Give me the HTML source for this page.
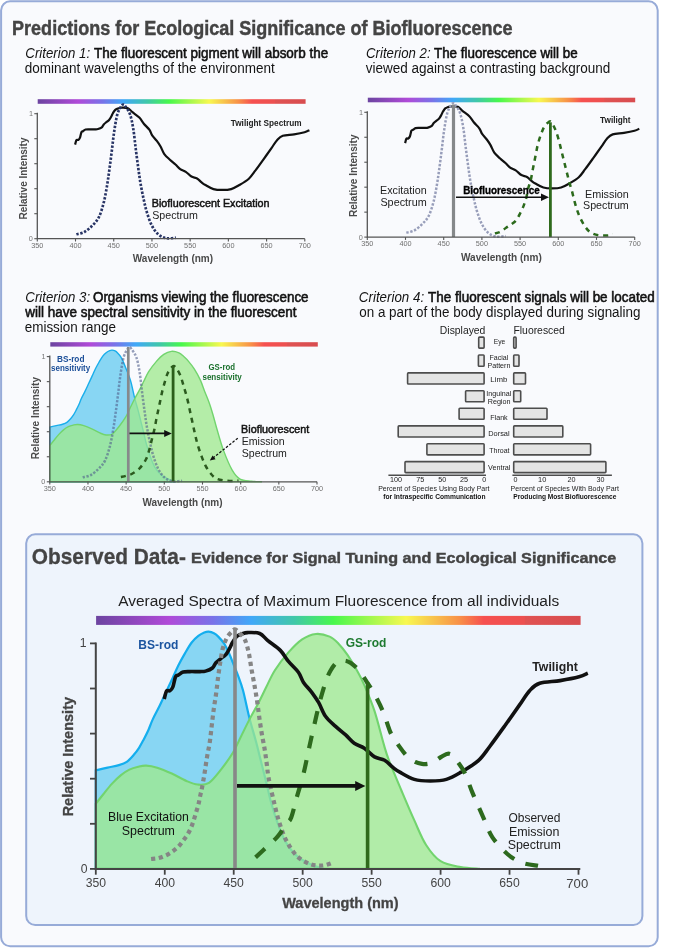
<!DOCTYPE html><html><head><meta charset="utf-8"><style>html,body{margin:0;padding:0;background:#fff;}svg{display:block;font-family:"Liberation Sans",sans-serif;will-change:transform;}</style></head><body>
<svg width="685" height="948" viewBox="0 0 685 948">
<defs><linearGradient id="spec" x1="0" x2="1" y1="0" y2="0"><stop offset="0" stop-color="#6c44a0"/><stop offset="0.15" stop-color="#b04ad8"/><stop offset="0.24" stop-color="#7a72e8"/><stop offset="0.32" stop-color="#40a8f8"/><stop offset="0.41" stop-color="#40c8a8"/><stop offset="0.49" stop-color="#48f84c"/><stop offset="0.64" stop-color="#f8f850"/><stop offset="0.75" stop-color="#f89048"/><stop offset="0.80" stop-color="#f65050"/><stop offset="0.884" stop-color="#ec5050"/><stop offset="0.886" stop-color="#e05252"/><stop offset="1" stop-color="#d84c4f"/></linearGradient><marker id="ah" viewBox="0 0 10 10" refX="9" refY="5" markerWidth="4" markerHeight="4" orient="auto" markerUnits="strokeWidth"><path d="M0,0 L10,5 L0,10 Z" fill="#111"/></marker></defs>
<rect x="0" y="0" width="685" height="948" fill="#ffffff"/>
<rect x="1.1" y="1.3" width="656.6" height="945.0" rx="9" fill="#f9fafd" stroke="#97abd8" stroke-width="2"/>
<rect x="26.2" y="534.3" width="616.2" height="390.7" rx="9" fill="#eef4fc" stroke="#97abd8" stroke-width="2"/>
<text x="12.09" y="34.60" font-size="20.30" font-weight="bold" font-style="normal" fill="#444" textLength="500.52" lengthAdjust="spacingAndGlyphs" stroke="#444" stroke-width="0.45">Predictions for Ecological Significance of Biofluorescence</text>
<text x="25.37" y="57.50" font-size="13.80" font-weight="normal" font-style="italic" fill="#141414" textLength="64.76" lengthAdjust="spacingAndGlyphs">Criterion 1:</text>
<text x="94.00" y="57.50" font-size="13.80" font-weight="normal" font-style="normal" fill="#111" textLength="234.30" lengthAdjust="spacingAndGlyphs" stroke="#111" stroke-width="0.55">The fluorescent pigment will absorb the</text>
<text x="24.73" y="72.60" font-size="13.80" font-weight="normal" font-style="normal" fill="#141414" textLength="249.97" lengthAdjust="spacingAndGlyphs">dominant wavelengths of the environment</text>
<text x="366.07" y="57.50" font-size="13.80" font-weight="normal" font-style="italic" fill="#141414" textLength="64.56" lengthAdjust="spacingAndGlyphs">Criterion 2:</text>
<text x="434.00" y="57.50" font-size="13.80" font-weight="normal" font-style="normal" fill="#111" textLength="143.60" lengthAdjust="spacingAndGlyphs" stroke="#111" stroke-width="0.55">The fluorescence will be</text>
<text x="365.75" y="72.60" font-size="13.80" font-weight="normal" font-style="normal" fill="#141414" textLength="244.62" lengthAdjust="spacingAndGlyphs">viewed against a contrasting background</text>
<text x="25.37" y="302.10" font-size="13.80" font-weight="normal" font-style="italic" fill="#141414" textLength="64.76" lengthAdjust="spacingAndGlyphs">Criterion 3:</text>
<text x="92.96" y="302.10" font-size="13.80" font-weight="normal" font-style="normal" fill="#111" textLength="215.63" lengthAdjust="spacingAndGlyphs" stroke="#111" stroke-width="0.55">Organisms viewing the fluorescence</text>
<text x="25.32" y="317.00" font-size="13.80" font-weight="normal" font-style="normal" fill="#111" textLength="271.28" lengthAdjust="spacingAndGlyphs" stroke="#111" stroke-width="0.55">will have spectral sensitivity in the fluorescent</text>
<text x="24.73" y="331.90" font-size="13.80" font-weight="normal" font-style="normal" fill="#141414" textLength="91.17" lengthAdjust="spacingAndGlyphs">emission range</text>
<text x="358.86" y="302.40" font-size="13.80" font-weight="normal" font-style="italic" fill="#141414" textLength="65.27" lengthAdjust="spacingAndGlyphs">Criterion 4:</text>
<text x="428.00" y="302.40" font-size="13.80" font-weight="normal" font-style="normal" fill="#111" textLength="226.77" lengthAdjust="spacingAndGlyphs" stroke="#111" stroke-width="0.55">The fluorescent signals will be located</text>
<text x="359.24" y="316.80" font-size="13.80" font-weight="normal" font-style="normal" fill="#141414" textLength="281.23" lengthAdjust="spacingAndGlyphs">on a part of the body displayed during signaling</text>
<text x="31.85" y="563.90" font-size="22.00" font-weight="bold" font-style="normal" fill="#444" textLength="153.99" lengthAdjust="spacingAndGlyphs" stroke="#444" stroke-width="0.3">Observed Data-</text>
<text x="190.92" y="563.40" font-size="15.00" font-weight="bold" font-style="normal" fill="#444" textLength="425.43" lengthAdjust="spacingAndGlyphs" stroke="#444" stroke-width="0.4">Evidence for Signal Tuning and Ecological Significance</text>
<text x="118.17" y="606.30" font-size="15.20" font-weight="normal" font-style="normal" fill="#222" textLength="440.99" lengthAdjust="spacingAndGlyphs">Averaged Spectra of Maximum Fluorescence from all individuals</text>
<rect x="37.7" y="99.2" width="267.9" height="4.6" fill="url(#spec)"/>
<path d="M75.13,144.57 C75.35,143.82 75.91,140.85 76.43,140.07 C76.95,139.30 77.69,140.30 78.27,139.95 C78.84,139.60 79.35,139.24 79.87,137.95 C80.39,136.66 80.88,133.32 81.40,132.20 C81.92,131.07 82.30,131.64 83.00,131.20 C83.70,130.76 84.56,129.89 85.60,129.57 C86.65,129.26 87.72,129.37 89.27,129.32 C90.83,129.28 93.47,129.37 94.93,129.32 C96.38,129.28 96.84,129.41 97.98,129.07 C99.13,128.74 100.85,128.10 101.81,127.33 C102.76,126.55 102.91,125.35 103.72,124.45 C104.52,123.55 105.73,122.68 106.62,121.95 C107.51,121.22 108.26,121.03 109.07,120.08 C109.87,119.12 110.80,117.35 111.44,116.20 C112.07,115.05 112.25,114.26 112.89,113.20 C113.52,112.14 114.38,110.62 115.26,109.83 C116.14,109.03 117.18,108.80 118.16,108.45 C119.14,108.10 119.51,107.74 121.14,107.70 C122.77,107.66 126.06,107.45 127.94,108.20 C129.83,108.95 130.56,110.64 132.45,112.20 C134.35,113.76 137.43,115.66 139.33,117.58 C141.23,119.49 142.17,121.68 143.84,123.70 C145.51,125.72 147.96,127.76 149.34,129.70 C150.73,131.64 150.92,133.45 152.17,135.32 C153.42,137.20 155.43,139.07 156.83,140.95 C158.24,142.82 159.33,144.39 160.58,146.57 C161.83,148.76 162.77,151.89 164.32,154.07 C165.88,156.26 168.04,157.97 169.90,159.70 C171.76,161.43 173.76,162.89 175.48,164.45 C177.20,166.01 178.50,167.85 180.22,169.07 C181.94,170.30 183.93,170.57 185.80,171.82 C187.67,173.07 189.58,175.47 191.46,176.57 C193.33,177.68 195.34,177.47 197.04,178.45 C198.73,179.43 200.22,181.35 201.62,182.45 C203.02,183.55 203.47,183.97 205.44,185.07 C207.42,186.18 210.67,188.26 213.47,189.07 C216.27,189.89 219.30,189.95 222.26,189.95 C225.21,189.95 228.36,189.89 231.20,189.07 C234.04,188.26 236.36,186.80 239.30,185.07 C242.24,183.35 246.19,181.10 248.85,178.70 C251.52,176.30 252.83,173.93 255.27,170.70 C257.72,167.47 260.83,163.10 263.53,159.32 C266.23,155.55 269.20,151.30 271.48,148.07 C273.76,144.85 275.32,141.99 277.21,139.95 C279.09,137.91 279.97,136.76 282.79,135.82 C285.60,134.89 290.47,134.93 294.10,134.32 C297.73,133.72 302.02,132.89 304.57,132.20 C307.12,131.51 308.58,130.53 309.39,130.20" fill="none" stroke="#111" stroke-width="2.2" stroke-linejoin="round"/>
<path d="M76.36,234.32 C77.71,233.93 81.77,233.43 84.46,231.95 C87.14,230.47 90.09,227.89 92.48,225.45 C94.88,223.01 96.97,221.07 98.82,217.32 C100.68,213.57 102.30,208.03 103.64,202.95 C104.98,197.87 105.92,192.18 106.85,186.82 C107.78,181.47 108.40,176.72 109.22,170.82 C110.03,164.93 110.93,157.91 111.74,151.45 C112.56,144.99 113.18,138.24 114.11,132.07 C115.04,125.91 116.12,118.76 117.32,114.45 C118.52,110.14 120.30,107.82 121.29,106.20 C122.29,104.57 122.62,104.70 123.28,104.70 C123.94,104.70 124.14,104.57 125.27,106.20 C126.40,107.82 128.75,110.66 130.08,114.45 C131.42,118.24 132.36,123.32 133.29,128.95 C134.22,134.57 134.85,141.78 135.66,148.20 C136.48,154.62 137.37,161.55 138.19,167.45 C139.00,173.35 139.63,178.20 140.56,183.57 C141.48,188.95 142.69,194.87 143.76,199.70 C144.83,204.53 145.64,208.28 146.97,212.57 C148.31,216.87 149.92,221.82 151.79,225.45 C153.66,229.07 155.80,232.20 158.21,234.32 C160.62,236.45 163.29,237.64 166.24,238.20 C169.18,238.76 174.26,237.78 175.86,237.70" fill="none" stroke="#283465" stroke-width="2.7" stroke-dasharray="2.4 1.6"/>
<path d="M37.30,112.70 V238.70 H304.80" fill="none" stroke="#555" stroke-width="1.3"/><line x1="34.30" y1="238.70" x2="37.30" y2="238.70" stroke="#555" stroke-width="1.1"/><line x1="34.30" y1="213.70" x2="37.30" y2="213.70" stroke="#555" stroke-width="1.1"/><line x1="34.30" y1="188.70" x2="37.30" y2="188.70" stroke="#555" stroke-width="1.1"/><line x1="34.30" y1="163.70" x2="37.30" y2="163.70" stroke="#555" stroke-width="1.1"/><line x1="34.30" y1="138.70" x2="37.30" y2="138.70" stroke="#555" stroke-width="1.1"/><line x1="34.30" y1="113.70" x2="37.30" y2="113.70" stroke="#555" stroke-width="1.1"/><line x1="37.30" y1="238.70" x2="37.30" y2="241.50" stroke="#555" stroke-width="1.1"/><text x="37.3" y="248.0" font-size="7.30" font-weight="normal" font-style="normal" fill="#707070" text-anchor="middle">350</text><line x1="75.51" y1="238.70" x2="75.51" y2="241.50" stroke="#555" stroke-width="1.1"/><text x="75.5" y="248.0" font-size="7.30" font-weight="normal" font-style="normal" fill="#707070" text-anchor="middle">400</text><line x1="113.73" y1="238.70" x2="113.73" y2="241.50" stroke="#555" stroke-width="1.1"/><text x="113.7" y="248.0" font-size="7.30" font-weight="normal" font-style="normal" fill="#707070" text-anchor="middle">450</text><line x1="151.94" y1="238.70" x2="151.94" y2="241.50" stroke="#555" stroke-width="1.1"/><text x="151.9" y="248.0" font-size="7.30" font-weight="normal" font-style="normal" fill="#707070" text-anchor="middle">500</text><line x1="190.16" y1="238.70" x2="190.16" y2="241.50" stroke="#555" stroke-width="1.1"/><text x="190.2" y="248.0" font-size="7.30" font-weight="normal" font-style="normal" fill="#707070" text-anchor="middle">550</text><line x1="228.37" y1="238.70" x2="228.37" y2="241.50" stroke="#555" stroke-width="1.1"/><text x="228.4" y="248.0" font-size="7.30" font-weight="normal" font-style="normal" fill="#707070" text-anchor="middle">600</text><line x1="266.59" y1="238.70" x2="266.59" y2="241.50" stroke="#555" stroke-width="1.1"/><text x="266.6" y="248.0" font-size="7.30" font-weight="normal" font-style="normal" fill="#707070" text-anchor="middle">650</text><line x1="304.80" y1="238.70" x2="304.80" y2="241.50" stroke="#555" stroke-width="1.1"/><text x="304.8" y="248.0" font-size="7.30" font-weight="normal" font-style="normal" fill="#707070" text-anchor="middle">700</text><text x="33.0" y="116.2" font-size="7.30" font-weight="normal" font-style="normal" fill="#777" text-anchor="end">1</text><text x="32.8" y="241.2" font-size="7.30" font-weight="normal" font-style="normal" fill="#777" text-anchor="end">0</text>
<text x="-0.67" y="0.00" font-size="11.00" font-weight="bold" font-style="normal" fill="#4a4a4a" textLength="82.02" lengthAdjust="spacingAndGlyphs" transform="translate(26.70 218.90) rotate(-90)">Relative Intensity</text>
<text x="132.79" y="262.00" font-size="10.40" font-weight="bold" font-style="normal" fill="#4a4a4a" textLength="80.31" lengthAdjust="spacingAndGlyphs">Wavelength (nm)</text>
<text x="230.81" y="125.80" font-size="8.60" font-weight="bold" font-style="normal" fill="#222" textLength="70.70" lengthAdjust="spacingAndGlyphs">Twilight Spectrum</text>
<text x="151.82" y="207.40" font-size="10.40" font-weight="normal" font-style="normal" fill="#111" textLength="117.68" lengthAdjust="spacingAndGlyphs" stroke="#111" stroke-width="0.45">Biofluorescent Excitation</text>
<text x="152.22" y="218.60" font-size="10.20" font-weight="normal" font-style="normal" fill="#222" textLength="45.69" lengthAdjust="spacingAndGlyphs">Spectrum</text>
<rect x="367.8" y="97.7" width="267.4" height="4.6" fill="url(#spec)"/>
<path d="M405.12,143.13 C405.33,142.38 405.89,139.40 406.42,138.63 C406.94,137.86 407.68,138.86 408.25,138.51 C408.82,138.15 409.33,137.80 409.85,136.51 C410.38,135.22 410.86,131.89 411.38,130.77 C411.90,129.65 412.29,130.21 412.99,129.77 C413.69,129.34 414.54,128.46 415.58,128.15 C416.63,127.84 417.70,127.94 419.25,127.90 C420.81,127.86 423.45,127.94 424.91,127.90 C426.36,127.86 426.82,127.98 427.96,127.65 C429.11,127.32 430.83,126.67 431.78,125.90 C432.74,125.13 432.89,123.93 433.69,123.03 C434.49,122.14 435.70,121.26 436.59,120.54 C437.49,119.81 438.24,119.62 439.04,118.66 C439.84,117.71 440.77,115.94 441.41,114.80 C442.04,113.65 442.22,112.86 442.86,111.80 C443.50,110.74 444.35,109.22 445.23,108.43 C446.11,107.64 447.15,107.41 448.13,107.06 C449.11,106.70 449.48,106.35 451.11,106.31 C452.74,106.27 456.03,106.06 457.91,106.81 C459.79,107.56 460.52,109.24 462.42,110.80 C464.32,112.36 467.40,114.26 469.29,116.17 C471.19,118.08 472.13,120.27 473.80,122.28 C475.47,124.30 477.91,126.34 479.30,128.27 C480.69,130.21 480.88,132.02 482.13,133.89 C483.38,135.76 485.39,137.63 486.79,139.51 C488.19,141.38 489.29,142.94 490.53,145.12 C491.78,147.31 492.72,150.43 494.28,152.61 C495.83,154.79 497.99,156.50 499.85,158.23 C501.71,159.95 503.71,161.41 505.43,162.97 C507.15,164.53 508.45,166.36 510.17,167.59 C511.89,168.81 513.87,169.08 515.75,170.33 C517.62,171.58 519.53,173.97 521.40,175.07 C523.27,176.18 525.28,175.97 526.98,176.95 C528.67,177.92 530.16,179.84 531.56,180.94 C532.96,182.04 533.41,182.46 535.38,183.56 C537.35,184.66 540.60,186.74 543.40,187.55 C546.20,188.37 549.23,188.43 552.19,188.43 C555.14,188.43 558.29,188.37 561.13,187.55 C563.97,186.74 566.28,185.29 569.23,183.56 C572.17,181.83 576.11,179.59 578.78,177.20 C581.44,174.80 582.75,172.43 585.19,169.21 C587.64,165.98 590.74,161.62 593.44,157.85 C596.14,154.09 599.11,149.84 601.39,146.62 C603.67,143.40 605.24,140.55 607.12,138.51 C609.00,136.47 609.88,135.33 612.70,134.39 C615.51,133.45 620.38,133.50 624.00,132.89 C627.63,132.29 631.92,131.46 634.47,130.77 C637.02,130.08 638.48,129.11 639.28,128.77" fill="none" stroke="#111" stroke-width="2.2" stroke-linejoin="round"/>
<path d="M406.34,232.73 C407.69,232.34 411.75,231.84 414.44,230.36 C417.13,228.88 420.07,226.30 422.46,223.87 C424.85,221.44 426.94,219.50 428.80,215.76 C430.66,212.02 432.28,206.48 433.62,201.41 C434.95,196.33 435.89,190.65 436.82,185.31 C437.75,179.96 438.38,175.22 439.19,169.33 C440.01,163.45 440.90,156.44 441.71,149.99 C442.53,143.54 443.15,136.80 444.08,130.65 C445.01,124.49 446.09,117.35 447.29,113.05 C448.49,108.74 450.27,106.43 451.26,104.81 C452.26,103.19 452.59,103.31 453.25,103.31 C453.91,103.31 454.10,103.19 455.24,104.81 C456.37,106.43 458.71,109.26 460.05,113.05 C461.39,116.83 462.33,121.91 463.26,127.53 C464.19,133.14 464.81,140.34 465.63,146.74 C466.44,153.15 467.33,160.08 468.15,165.96 C468.96,171.85 469.59,176.70 470.52,182.06 C471.45,187.43 472.66,193.34 473.73,198.16 C474.79,202.99 475.60,206.73 476.93,211.02 C478.27,215.30 479.88,220.25 481.75,223.87 C483.62,227.49 485.76,230.61 488.16,232.73 C490.57,234.85 493.25,236.04 496.19,236.60 C499.13,237.16 504.21,236.18 505.81,236.10" fill="none" stroke="#989eba" stroke-width="2.5" stroke-dasharray="2.4 1.6"/>
<path d="M494.89,233.36 C495.74,233.15 498.14,233.04 500.01,232.11 C501.88,231.17 504.30,228.99 506.12,227.74 C507.94,226.49 509.31,225.81 510.93,224.62 C512.55,223.43 514.29,222.48 515.82,220.63 C517.35,218.78 518.79,216.01 520.10,213.51 C521.41,211.02 522.66,208.27 523.69,205.65 C524.72,203.03 525.56,200.58 526.29,197.79 C527.01,195.00 527.31,191.86 528.05,188.93 C528.78,185.99 529.99,183.10 530.72,180.19 C531.45,177.28 531.83,174.37 532.40,171.46 C532.97,168.54 533.57,165.65 534.16,162.72 C534.74,159.79 535.33,156.79 535.91,153.86 C536.50,150.93 536.95,148.03 537.67,145.12 C538.40,142.21 539.25,139.32 540.27,136.39 C541.29,133.45 542.61,129.73 543.78,127.53 C544.96,125.32 546.13,124.14 547.30,123.16 C548.47,122.18 549.50,120.64 550.81,121.66 C552.12,122.68 553.86,126.26 555.17,129.27 C556.48,132.29 557.66,136.26 558.68,139.76 C559.70,143.25 560.41,146.74 561.28,150.24 C562.15,153.73 563.00,157.21 563.88,160.72 C564.76,164.24 565.66,167.79 566.55,171.33 C567.44,174.87 568.35,178.71 569.23,181.94 C570.10,185.16 570.94,187.45 571.82,190.67 C572.70,193.90 573.62,198.06 574.50,201.28 C575.38,204.51 576.08,207.11 577.09,210.02 C578.11,212.93 579.16,215.82 580.61,218.75 C582.06,221.69 584.06,225.29 585.80,227.62 C587.55,229.94 588.87,231.44 591.08,232.73 C593.28,234.02 596.11,234.92 599.02,235.35 C601.94,235.79 606.27,235.56 608.57,235.35 C610.88,235.14 612.14,234.31 612.85,234.10" fill="none" stroke="#2c6a1c" stroke-width="2.5" stroke-dasharray="5 4.8"/>
<line x1="453.5" y1="104.4" x2="453.5" y2="237.1" stroke="#85888a" stroke-width="3.2"/>
<line x1="550.4" y1="122.3" x2="550.4" y2="237.1" stroke="#2f6a1c" stroke-width="2.8"/>
<line x1="456" y1="197.2" x2="543" y2="197.2" stroke="#111" stroke-width="1.6"/>
<path d="M549,197.2 L541,193.4 L541,201 Z" fill="#111"/>
<path d="M367.30,111.30 V237.10 H634.70" fill="none" stroke="#555" stroke-width="1.3"/><line x1="364.30" y1="237.10" x2="367.30" y2="237.10" stroke="#555" stroke-width="1.1"/><line x1="364.30" y1="212.14" x2="367.30" y2="212.14" stroke="#555" stroke-width="1.1"/><line x1="364.30" y1="187.18" x2="367.30" y2="187.18" stroke="#555" stroke-width="1.1"/><line x1="364.30" y1="162.22" x2="367.30" y2="162.22" stroke="#555" stroke-width="1.1"/><line x1="364.30" y1="137.26" x2="367.30" y2="137.26" stroke="#555" stroke-width="1.1"/><line x1="364.30" y1="112.30" x2="367.30" y2="112.30" stroke="#555" stroke-width="1.1"/><line x1="367.30" y1="237.10" x2="367.30" y2="239.90" stroke="#555" stroke-width="1.1"/><text x="367.3" y="246.4" font-size="7.30" font-weight="normal" font-style="normal" fill="#707070" text-anchor="middle">350</text><line x1="405.50" y1="237.10" x2="405.50" y2="239.90" stroke="#555" stroke-width="1.1"/><text x="405.5" y="246.4" font-size="7.30" font-weight="normal" font-style="normal" fill="#707070" text-anchor="middle">400</text><line x1="443.70" y1="237.10" x2="443.70" y2="239.90" stroke="#555" stroke-width="1.1"/><text x="443.7" y="246.4" font-size="7.30" font-weight="normal" font-style="normal" fill="#707070" text-anchor="middle">450</text><line x1="481.90" y1="237.10" x2="481.90" y2="239.90" stroke="#555" stroke-width="1.1"/><text x="481.9" y="246.4" font-size="7.30" font-weight="normal" font-style="normal" fill="#707070" text-anchor="middle">500</text><line x1="520.10" y1="237.10" x2="520.10" y2="239.90" stroke="#555" stroke-width="1.1"/><text x="520.1" y="246.4" font-size="7.30" font-weight="normal" font-style="normal" fill="#707070" text-anchor="middle">550</text><line x1="558.30" y1="237.10" x2="558.30" y2="239.90" stroke="#555" stroke-width="1.1"/><text x="558.3" y="246.4" font-size="7.30" font-weight="normal" font-style="normal" fill="#707070" text-anchor="middle">600</text><line x1="596.50" y1="237.10" x2="596.50" y2="239.90" stroke="#555" stroke-width="1.1"/><text x="596.5" y="246.4" font-size="7.30" font-weight="normal" font-style="normal" fill="#707070" text-anchor="middle">650</text><line x1="634.70" y1="237.10" x2="634.70" y2="239.90" stroke="#555" stroke-width="1.1"/><text x="634.7" y="246.4" font-size="7.30" font-weight="normal" font-style="normal" fill="#707070" text-anchor="middle">700</text><text x="363.0" y="114.8" font-size="7.30" font-weight="normal" font-style="normal" fill="#777" text-anchor="end">1</text><text x="362.8" y="239.6" font-size="7.30" font-weight="normal" font-style="normal" fill="#777" text-anchor="end">0</text>
<text x="-0.67" y="0.00" font-size="11.00" font-weight="bold" font-style="normal" fill="#4a4a4a" textLength="82.53" lengthAdjust="spacingAndGlyphs" transform="translate(356.70 216.40) rotate(-90)">Relative Intensity</text>
<text x="460.99" y="260.90" font-size="10.40" font-weight="bold" font-style="normal" fill="#4a4a4a" textLength="80.81" lengthAdjust="spacingAndGlyphs">Wavelength (nm)</text>
<text x="600.11" y="122.80" font-size="8.60" font-weight="bold" font-style="normal" fill="#222" textLength="30.49" lengthAdjust="spacingAndGlyphs">Twilight</text>
<text x="463.14" y="193.90" font-size="10.60" font-weight="bold" font-style="normal" fill="#000" textLength="76.60" lengthAdjust="spacingAndGlyphs" stroke="#000" stroke-width="0.35">Biofluorescence</text>
<text x="380.02" y="194.10" font-size="10.10" font-weight="normal" font-style="normal" fill="#222" textLength="46.68" lengthAdjust="spacingAndGlyphs">Excitation</text>
<text x="380.41" y="205.60" font-size="10.10" font-weight="normal" font-style="normal" fill="#222" textLength="46.30" lengthAdjust="spacingAndGlyphs">Spectrum</text>
<text x="585.01" y="197.80" font-size="10.10" font-weight="normal" font-style="normal" fill="#222" textLength="43.79" lengthAdjust="spacingAndGlyphs">Emission</text>
<text x="583.01" y="208.90" font-size="10.10" font-weight="normal" font-style="normal" fill="#222" textLength="45.79" lengthAdjust="spacingAndGlyphs">Spectrum</text>
<rect x="50.3" y="342.2" width="267.5" height="4.4" fill="url(#spec)"/>
<path d="M49.80,427.09 C50.88,426.84 54.16,426.07 56.29,425.59 C58.41,425.11 60.78,424.75 62.55,424.21 C64.32,423.67 65.53,423.29 66.90,422.33 C68.27,421.37 69.66,419.74 70.79,418.45 C71.93,417.16 72.80,415.94 73.70,414.57 C74.59,413.19 75.29,411.81 76.14,410.19 C76.99,408.56 77.96,406.70 78.81,404.80 C79.66,402.90 80.22,401.03 81.25,398.79 C82.28,396.56 83.76,393.95 84.99,391.41 C86.23,388.86 87.44,386.15 88.66,383.52 C89.88,380.89 91.19,378.09 92.32,375.63 C93.46,373.17 94.32,371.02 95.45,368.74 C96.59,366.47 97.90,364.09 99.12,361.98 C100.34,359.88 101.56,357.69 102.78,356.10 C104.00,354.51 105.29,353.39 106.45,352.47 C107.60,351.55 108.79,350.99 109.73,350.59 C110.67,350.19 111.21,350.03 112.10,350.09 C112.99,350.15 114.16,350.49 115.07,350.97 C115.99,351.45 116.64,351.99 117.59,352.97 C118.55,353.95 119.83,355.33 120.80,356.85 C121.77,358.37 122.53,360.17 123.39,362.11 C124.26,364.05 125.12,366.34 125.99,368.49 C126.86,370.64 127.72,372.60 128.59,375.00 C129.45,377.40 130.16,379.03 131.18,382.89 C132.20,386.75 133.52,393.51 134.69,398.17 C135.86,402.82 137.15,406.83 138.21,410.81 C139.26,414.80 140.09,418.32 141.03,422.08 C141.97,425.84 142.95,429.65 143.85,433.35 C144.76,437.04 145.39,440.42 146.45,444.24 C147.51,448.06 148.80,452.46 150.19,456.26 C151.58,460.06 153.00,463.98 154.77,467.03 C156.54,470.07 158.54,472.51 160.80,474.54 C163.07,476.56 165.87,477.96 168.36,479.17 C170.85,480.38 174.53,481.36 175.77,481.80 L175.77,481.80 L49.80,481.80 Z" fill="#88d6f3" stroke="#1aaeeb" stroke-width="1.4"/>
<path d="M49.80,445.62 C50.47,444.76 52.37,442.32 53.85,440.48 C55.32,438.65 57.04,436.37 58.66,434.60 C60.27,432.83 61.93,431.16 63.54,429.84 C65.16,428.53 66.74,427.50 68.35,426.71 C69.97,425.92 71.70,425.46 73.24,425.08 C74.78,424.71 75.85,424.37 77.59,424.46 C79.33,424.54 81.33,424.85 83.70,425.59 C86.06,426.32 89.09,427.61 91.79,428.84 C94.49,430.07 97.50,431.95 99.88,432.97 C102.26,433.99 103.99,434.81 106.06,434.98 C108.14,435.14 110.12,435.43 112.32,433.97 C114.53,432.51 117.06,429.01 119.27,426.21 C121.49,423.42 123.85,420.12 125.61,417.20 C127.36,414.28 128.29,411.75 129.81,408.68 C131.32,405.62 133.05,401.96 134.69,398.79 C136.33,395.62 138.14,392.57 139.66,389.65 C141.17,386.73 142.28,384.27 143.78,381.26 C145.28,378.26 146.59,374.90 148.66,371.62 C150.74,368.35 153.70,364.49 156.22,361.61 C158.74,358.73 161.25,356.06 163.78,354.35 C166.31,352.64 168.88,351.59 171.41,351.34 C173.95,351.09 176.91,351.97 178.97,352.84 C181.03,353.72 182.15,355.14 183.78,356.60 C185.41,358.06 186.98,359.52 188.74,361.61 C190.51,363.69 192.47,366.07 194.39,369.12 C196.31,372.17 198.54,376.13 200.27,379.89 C202.00,383.64 203.24,387.69 204.78,391.66 C206.32,395.62 208.11,399.71 209.51,403.68 C210.91,407.64 211.95,411.27 213.17,415.44 C214.40,419.62 215.15,422.98 216.84,428.72 C218.53,434.45 220.80,443.03 223.33,449.87 C225.86,456.72 229.24,464.92 232.03,469.78 C234.82,474.64 236.83,477.15 240.05,479.05 C243.27,480.94 247.68,480.71 251.35,481.17 C255.01,481.63 260.25,481.70 262.03,481.80 L262.03,481.80 L49.80,481.80 Z" fill="rgb(159,233,142)" fill-opacity="0.77" stroke="#72d46e" stroke-width="1.4"/>
<path d="M82.70,477.42 C84.05,477.02 88.11,476.52 90.80,475.04 C93.48,473.56 96.42,470.97 98.81,468.53 C101.20,466.09 103.29,464.15 105.15,460.39 C107.01,456.63 108.62,451.08 109.96,445.99 C111.29,440.90 112.24,435.20 113.16,429.84 C114.09,424.48 114.72,419.72 115.53,413.82 C116.35,407.91 117.24,400.88 118.05,394.41 C118.86,387.94 119.49,381.18 120.42,375.00 C121.35,368.83 122.43,361.67 123.62,357.35 C124.82,353.03 126.60,350.72 127.59,349.09 C128.59,347.46 128.92,347.59 129.58,347.59 C130.24,347.59 130.43,347.46 131.56,349.09 C132.70,350.72 135.04,353.55 136.37,357.35 C137.71,361.15 138.65,366.24 139.58,371.87 C140.51,377.51 141.13,384.73 141.95,391.16 C142.76,397.58 143.65,404.53 144.47,410.44 C145.28,416.34 145.90,421.20 146.83,426.59 C147.76,431.97 148.97,437.90 150.04,442.74 C151.11,447.58 151.91,451.33 153.24,455.63 C154.58,459.93 156.18,464.90 158.05,468.53 C159.92,472.16 162.06,475.29 164.47,477.42 C166.87,479.55 169.54,480.74 172.48,481.30 C175.42,481.86 180.50,480.88 182.10,480.80" fill="none" stroke="#505f8c" stroke-opacity="0.6" stroke-width="2.5" stroke-dasharray="2.3 1.55"/>
<path d="M120.88,477.04 C121.75,476.83 124.27,476.33 126.14,475.79 C128.01,475.25 129.78,475.12 132.10,473.79 C134.41,472.45 137.72,470.20 140.04,467.78 C142.35,465.36 144.45,462.25 145.99,459.26 C147.53,456.28 148.30,453.19 149.27,449.87 C150.25,446.56 150.99,442.88 151.87,439.36 C152.75,435.83 153.77,432.24 154.54,428.72 C155.32,425.19 155.87,421.50 156.53,418.20 C157.19,414.90 157.85,412.02 158.51,408.93 C159.17,405.85 159.84,402.76 160.50,399.67 C161.16,396.58 161.72,393.49 162.48,390.40 C163.25,387.32 164.21,384.00 165.08,381.14 C165.94,378.28 166.58,375.55 167.67,373.25 C168.77,370.96 170.61,368.58 171.64,367.37 C172.67,366.16 173.03,365.78 173.86,365.99 C174.68,366.20 175.50,366.97 176.61,368.62 C177.71,370.27 179.30,372.90 180.50,375.88 C181.70,378.86 182.67,382.79 183.78,386.52 C184.89,390.26 186.14,394.33 187.14,398.29 C188.15,402.26 188.93,406.33 189.81,410.31 C190.69,414.30 191.54,418.24 192.41,422.20 C193.27,426.17 194.13,430.34 195.00,434.10 C195.88,437.85 196.57,441.01 197.68,444.74 C198.78,448.48 200.32,452.98 201.65,456.51 C202.97,460.04 204.08,463.02 205.62,465.90 C207.16,468.78 209.13,471.70 210.88,473.79 C212.64,475.87 213.96,477.31 216.15,478.42 C218.34,479.53 221.15,479.98 224.01,480.42 C226.88,480.86 230.91,481.03 233.33,481.05 C235.75,481.07 237.65,480.63 238.52,480.55" fill="none" stroke="#2b5a1e" stroke-width="2.5" stroke-dasharray="5 4.8"/>
<line x1="128.3" y1="347" x2="128.3" y2="481.8" stroke="#87898b" stroke-width="2.7"/>
<line x1="173.1" y1="365.9" x2="173.1" y2="481.8" stroke="#2b5e1a" stroke-width="2.8"/>
<line x1="129.5" y1="433.4" x2="165" y2="433.4" stroke="#111" stroke-width="1.7"/>
<path d="M171.8,433.4 L164.2,429.9 L164.2,436.9 Z" fill="#111"/>
<path d="M49.80,355.60 V481.80 H317.00" fill="none" stroke="#555" stroke-width="1.3"/><line x1="46.80" y1="481.80" x2="49.80" y2="481.80" stroke="#555" stroke-width="1.1"/><line x1="46.80" y1="456.76" x2="49.80" y2="456.76" stroke="#555" stroke-width="1.1"/><line x1="46.80" y1="431.72" x2="49.80" y2="431.72" stroke="#555" stroke-width="1.1"/><line x1="46.80" y1="406.68" x2="49.80" y2="406.68" stroke="#555" stroke-width="1.1"/><line x1="46.80" y1="381.64" x2="49.80" y2="381.64" stroke="#555" stroke-width="1.1"/><line x1="46.80" y1="356.60" x2="49.80" y2="356.60" stroke="#555" stroke-width="1.1"/><line x1="49.80" y1="481.80" x2="49.80" y2="484.60" stroke="#555" stroke-width="1.1"/><text x="49.8" y="491.1" font-size="7.30" font-weight="normal" font-style="normal" fill="#707070" text-anchor="middle">350</text><line x1="87.97" y1="481.80" x2="87.97" y2="484.60" stroke="#555" stroke-width="1.1"/><text x="88.0" y="491.1" font-size="7.30" font-weight="normal" font-style="normal" fill="#707070" text-anchor="middle">400</text><line x1="126.14" y1="481.80" x2="126.14" y2="484.60" stroke="#555" stroke-width="1.1"/><text x="126.1" y="491.1" font-size="7.30" font-weight="normal" font-style="normal" fill="#707070" text-anchor="middle">450</text><line x1="164.31" y1="481.80" x2="164.31" y2="484.60" stroke="#555" stroke-width="1.1"/><text x="164.3" y="491.1" font-size="7.30" font-weight="normal" font-style="normal" fill="#707070" text-anchor="middle">500</text><line x1="202.49" y1="481.80" x2="202.49" y2="484.60" stroke="#555" stroke-width="1.1"/><text x="202.5" y="491.1" font-size="7.30" font-weight="normal" font-style="normal" fill="#707070" text-anchor="middle">550</text><line x1="240.66" y1="481.80" x2="240.66" y2="484.60" stroke="#555" stroke-width="1.1"/><text x="240.7" y="491.1" font-size="7.30" font-weight="normal" font-style="normal" fill="#707070" text-anchor="middle">600</text><line x1="278.83" y1="481.80" x2="278.83" y2="484.60" stroke="#555" stroke-width="1.1"/><text x="278.8" y="491.1" font-size="7.30" font-weight="normal" font-style="normal" fill="#707070" text-anchor="middle">650</text><line x1="317.00" y1="481.80" x2="317.00" y2="484.60" stroke="#555" stroke-width="1.1"/><text x="317.0" y="491.1" font-size="7.30" font-weight="normal" font-style="normal" fill="#707070" text-anchor="middle">700</text><text x="45.5" y="359.1" font-size="7.30" font-weight="normal" font-style="normal" fill="#777" text-anchor="end">1</text><text x="45.3" y="484.3" font-size="7.30" font-weight="normal" font-style="normal" fill="#777" text-anchor="end">0</text>
<text x="-0.67" y="0.00" font-size="11.00" font-weight="bold" font-style="normal" fill="#4a4a4a" textLength="82.12" lengthAdjust="spacingAndGlyphs" transform="translate(39.40 458.50) rotate(-90)">Relative Intensity</text>
<text x="142.39" y="505.80" font-size="10.40" font-weight="bold" font-style="normal" fill="#4a4a4a" textLength="80.21" lengthAdjust="spacingAndGlyphs">Wavelength (nm)</text>
<text x="56.95" y="361.70" font-size="9.00" font-weight="bold" font-style="normal" fill="#1a4e98" textLength="27.50" lengthAdjust="spacingAndGlyphs">BS-rod</text>
<text x="51.02" y="370.80" font-size="9.00" font-weight="bold" font-style="normal" fill="#1a4e98" textLength="39.23" lengthAdjust="spacingAndGlyphs">sensitivity</text>
<text x="208.48" y="370.20" font-size="9.00" font-weight="bold" font-style="normal" fill="#1a702c" textLength="26.54" lengthAdjust="spacingAndGlyphs">GS-rod</text>
<text x="202.42" y="379.70" font-size="9.00" font-weight="bold" font-style="normal" fill="#1a702c" textLength="39.43" lengthAdjust="spacingAndGlyphs">sensitivity</text>
<text x="241.12" y="433.40" font-size="10.20" font-weight="normal" font-style="normal" fill="#111" textLength="68.16" lengthAdjust="spacingAndGlyphs" stroke="#111" stroke-width="0.45">Biofluorescent</text>
<text x="241.73" y="445.10" font-size="10.20" font-weight="normal" font-style="normal" fill="#222" textLength="42.96" lengthAdjust="spacingAndGlyphs">Emission</text>
<text x="241.72" y="456.80" font-size="10.20" font-weight="normal" font-style="normal" fill="#222" textLength="45.18" lengthAdjust="spacingAndGlyphs">Spectrum</text>
<line x1="237.8" y1="438.2" x2="212.6" y2="458.3" stroke="#111" stroke-width="1.2" stroke-dasharray="2.6 1.6"/>
<path d="M209.8,460.6 L212.6,455.4 L215.6,459.2 Z" fill="#111"/>
<rect x="478.70" y="337.10" width="5.40" height="11.00" rx="0.8" fill="#e4e4e4" stroke="#4d4d4d" stroke-width="1.6"/>
<rect x="513.70" y="337.10" width="2.40" height="11.00" rx="0.8" fill="#e4e4e4" stroke="#4d4d4d" stroke-width="1.6"/>
<text x="493.76" y="343.90" font-size="6.80" font-weight="normal" font-style="normal" fill="#222" textLength="11.44" lengthAdjust="spacingAndGlyphs">Eye</text>
<rect x="478.40" y="355.00" width="5.70" height="11.20" rx="0.8" fill="#e4e4e4" stroke="#4d4d4d" stroke-width="1.6"/>
<rect x="513.70" y="355.00" width="5.30" height="11.20" rx="0.8" fill="#e4e4e4" stroke="#4d4d4d" stroke-width="1.6"/>
<text x="489.42" y="359.90" font-size="6.80" font-weight="normal" font-style="normal" fill="#222" textLength="18.85" lengthAdjust="spacingAndGlyphs">Facial</text>
<text x="487.41" y="367.90" font-size="6.80" font-weight="normal" font-style="normal" fill="#222" textLength="23.05" lengthAdjust="spacingAndGlyphs">Pattern</text>
<rect x="407.60" y="372.90" width="76.50" height="11.10" rx="0.8" fill="#e4e4e4" stroke="#4d4d4d" stroke-width="1.6"/>
<rect x="513.70" y="372.90" width="11.80" height="11.10" rx="0.8" fill="#e4e4e4" stroke="#4d4d4d" stroke-width="1.6"/>
<text x="490.36" y="381.80" font-size="6.80" font-weight="normal" font-style="normal" fill="#222" textLength="16.97" lengthAdjust="spacingAndGlyphs">Limb</text>
<rect x="465.60" y="390.70" width="18.50" height="11.00" rx="0.8" fill="#e4e4e4" stroke="#4d4d4d" stroke-width="1.6"/>
<rect x="513.70" y="390.70" width="7.00" height="11.00" rx="0.8" fill="#e4e4e4" stroke="#4d4d4d" stroke-width="1.6"/>
<text x="486.24" y="395.80" font-size="6.80" font-weight="normal" font-style="normal" fill="#222" textLength="25.04" lengthAdjust="spacingAndGlyphs">Inguinal</text>
<text x="487.71" y="403.80" font-size="6.80" font-weight="normal" font-style="normal" fill="#222" textLength="22.76" lengthAdjust="spacingAndGlyphs">Region</text>
<rect x="459.10" y="408.20" width="25.00" height="11.00" rx="0.8" fill="#e4e4e4" stroke="#4d4d4d" stroke-width="1.6"/>
<rect x="513.70" y="408.20" width="33.30" height="11.00" rx="0.8" fill="#e4e4e4" stroke="#4d4d4d" stroke-width="1.6"/>
<text x="490.21" y="420.10" font-size="6.80" font-weight="normal" font-style="normal" fill="#222" textLength="17.48" lengthAdjust="spacingAndGlyphs">Flank</text>
<rect x="398.20" y="425.90" width="85.90" height="11.10" rx="0.8" fill="#e4e4e4" stroke="#4d4d4d" stroke-width="1.6"/>
<rect x="513.70" y="425.90" width="49.10" height="11.10" rx="0.8" fill="#e4e4e4" stroke="#4d4d4d" stroke-width="1.6"/>
<text x="488.30" y="436.10" font-size="6.80" font-weight="normal" font-style="normal" fill="#222" textLength="21.30" lengthAdjust="spacingAndGlyphs">Dorsal</text>
<rect x="426.90" y="443.80" width="57.20" height="11.10" rx="0.8" fill="#e4e4e4" stroke="#4d4d4d" stroke-width="1.6"/>
<rect x="513.70" y="443.80" width="76.90" height="11.10" rx="0.8" fill="#e4e4e4" stroke="#4d4d4d" stroke-width="1.6"/>
<text x="489.34" y="452.60" font-size="6.80" font-weight="normal" font-style="normal" fill="#222" textLength="20.21" lengthAdjust="spacingAndGlyphs">Throat</text>
<rect x="405.00" y="461.60" width="79.10" height="11.00" rx="0.8" fill="#e4e4e4" stroke="#4d4d4d" stroke-width="1.6"/>
<rect x="513.70" y="461.60" width="92.20" height="11.00" rx="0.8" fill="#e4e4e4" stroke="#4d4d4d" stroke-width="1.6"/>
<text x="487.97" y="470.00" font-size="6.80" font-weight="normal" font-style="normal" fill="#222" textLength="22.51" lengthAdjust="spacingAndGlyphs">Ventral</text>
<text x="439.85" y="333.90" font-size="10.40" font-weight="normal" font-style="normal" fill="#222" textLength="45.52" lengthAdjust="spacingAndGlyphs">Displayed</text>
<text x="513.45" y="333.90" font-size="10.40" font-weight="normal" font-style="normal" fill="#222" textLength="51.42" lengthAdjust="spacingAndGlyphs">Fluoresced</text>
<line x1="388.4" y1="475.2" x2="486" y2="475.2" stroke="#4d4d4d" stroke-width="1.4"/>
<line x1="512.4" y1="475.2" x2="611.9" y2="475.2" stroke="#4d4d4d" stroke-width="1.4"/>
<text x="390.05" y="481.90" font-size="6.60" font-weight="normal" font-style="normal" fill="#222" textLength="12.03" lengthAdjust="spacingAndGlyphs">100</text>
<text x="416.23" y="481.90" font-size="6.60" font-weight="normal" font-style="normal" fill="#222" textLength="8.08" lengthAdjust="spacingAndGlyphs">75</text>
<text x="438.21" y="481.90" font-size="6.60" font-weight="normal" font-style="normal" fill="#222" textLength="7.97" lengthAdjust="spacingAndGlyphs">50</text>
<text x="460.04" y="481.90" font-size="6.60" font-weight="normal" font-style="normal" fill="#222" textLength="8.07" lengthAdjust="spacingAndGlyphs">25</text>
<text x="482.22" y="481.90" font-size="6.60" font-weight="normal" font-style="normal" fill="#222" textLength="3.96" lengthAdjust="spacingAndGlyphs">0</text>
<text x="513.52" y="481.90" font-size="6.60" font-weight="normal" font-style="normal" fill="#222" textLength="3.96" lengthAdjust="spacingAndGlyphs">0</text>
<text x="538.03" y="481.90" font-size="6.60" font-weight="normal" font-style="normal" fill="#222" textLength="8.26" lengthAdjust="spacingAndGlyphs">10</text>
<text x="567.54" y="481.90" font-size="6.60" font-weight="normal" font-style="normal" fill="#222" textLength="8.05" lengthAdjust="spacingAndGlyphs">20</text>
<text x="596.53" y="481.90" font-size="6.60" font-weight="normal" font-style="normal" fill="#222" textLength="7.95" lengthAdjust="spacingAndGlyphs">30</text>
<text x="378.13" y="491.00" font-size="7.00" font-weight="normal" font-style="normal" fill="#222" textLength="111.43" lengthAdjust="spacingAndGlyphs">Percent of Species Using Body Part</text>
<text x="383.29" y="498.90" font-size="7.00" font-weight="bold" font-style="normal" fill="#111" textLength="102.23" lengthAdjust="spacingAndGlyphs">for Intraspecific Communication</text>
<text x="510.52" y="491.00" font-size="7.00" font-weight="normal" font-style="normal" fill="#222" textLength="108.43" lengthAdjust="spacingAndGlyphs">Percent of Species With Body Part</text>
<text x="513.36" y="498.90" font-size="7.00" font-weight="bold" font-style="normal" fill="#111" textLength="103.07" lengthAdjust="spacingAndGlyphs">Producing Most Biofluorescence</text>
<rect x="96.1" y="615.9" width="484.5" height="9.0" fill="url(#spec)"/>
<path d="M95.80,770.36 C97.76,769.91 103.70,768.51 107.55,767.65 C111.39,766.79 115.68,766.15 118.88,765.17 C122.08,764.19 124.27,763.52 126.76,761.79 C129.24,760.06 131.76,757.13 133.81,754.80 C135.85,752.47 137.44,750.29 139.06,747.81 C140.67,745.33 141.94,742.85 143.48,739.91 C145.02,736.98 146.77,733.64 148.32,730.22 C149.86,726.80 150.87,723.41 152.74,719.39 C154.60,715.37 157.28,710.67 159.51,706.09 C161.74,701.50 163.93,696.62 166.14,691.88 C168.35,687.15 170.73,682.11 172.78,677.68 C174.83,673.24 176.39,669.37 178.44,665.27 C180.49,661.18 182.87,656.89 185.08,653.10 C187.29,649.30 189.50,645.35 191.71,642.50 C193.92,639.64 196.25,637.61 198.34,635.96 C200.44,634.30 202.58,633.29 204.29,632.58 C205.99,631.86 206.96,631.56 208.57,631.67 C210.18,631.79 212.30,632.39 213.96,633.25 C215.62,634.12 216.79,635.09 218.52,636.86 C220.25,638.63 222.58,641.11 224.33,643.85 C226.08,646.59 227.46,649.83 229.02,653.32 C230.59,656.82 232.16,660.95 233.72,664.82 C235.29,668.69 236.86,672.23 238.42,676.55 C239.99,680.87 241.28,683.80 243.12,690.75 C244.96,697.71 247.36,709.88 249.48,718.27 C251.60,726.65 253.92,733.86 255.84,741.04 C257.75,748.22 259.24,754.57 260.95,761.34 C262.65,768.10 264.43,774.98 266.06,781.63 C267.70,788.28 268.85,794.37 270.76,801.25 C272.67,808.13 275.02,816.06 277.53,822.90 C280.04,829.74 282.62,836.80 285.82,842.29 C289.03,847.78 292.64,852.18 296.74,855.82 C300.84,859.47 305.91,861.98 310.42,864.16 C314.94,866.34 321.60,868.11 323.83,868.90 L323.83,868.90 L95.80,868.90 Z" fill="#88d6f3" stroke="#14aeee" stroke-width="2.2"/>
<path d="M95.80,803.73 C97.02,802.19 100.45,797.79 103.12,794.49 C105.80,791.18 108.91,787.08 111.83,783.89 C114.76,780.69 117.75,777.69 120.68,775.32 C123.60,772.95 126.46,771.11 129.38,769.68 C132.31,768.25 135.44,767.42 138.23,766.75 C141.01,766.07 142.95,765.47 146.10,765.62 C149.26,765.77 152.88,766.34 157.16,767.65 C161.44,768.97 166.93,771.30 171.81,773.51 C176.69,775.73 182.15,779.11 186.46,780.95 C190.77,782.80 193.90,784.26 197.65,784.56 C201.41,784.86 205.00,785.39 208.99,782.76 C212.97,780.13 217.55,773.81 221.56,768.78 C225.57,763.74 229.85,757.80 233.03,752.54 C236.21,747.28 237.89,742.73 240.63,737.21 C243.37,731.68 246.51,725.11 249.48,719.39 C252.45,713.68 255.72,708.19 258.46,702.93 C261.20,697.67 263.21,693.24 265.92,687.82 C268.64,682.41 271.01,676.36 274.77,670.46 C278.52,664.56 283.89,657.61 288.45,652.42 C293.01,647.23 297.55,642.42 302.13,639.34 C306.72,636.26 311.37,634.38 315.95,633.93 C320.54,633.48 325.90,635.06 329.63,636.63 C333.37,638.21 335.39,640.39 338.34,643.40 C341.29,646.41 344.12,649.98 347.32,654.67 C350.53,659.37 354.72,666.51 357.55,671.59 C360.38,676.66 361.49,678.54 364.32,685.12 C367.16,691.69 371.28,701.09 374.55,711.05 C377.82,721.01 381.53,736.61 383.95,744.88 C386.37,753.14 386.18,753.14 389.06,760.66 C391.94,768.18 397.01,780.02 401.22,789.98 C405.44,799.93 410.20,811.25 414.35,820.42 C418.50,829.59 421.72,838.19 426.10,845.00 C430.47,851.80 434.85,857.55 440.61,861.23 C446.37,864.92 454.08,865.82 460.65,867.10 C467.21,868.37 476.77,868.60 480.00,868.90 L480.00,868.90 L95.80,868.90 Z" fill="rgb(159,233,142)" fill-opacity="0.77" stroke="#72d46e" stroke-width="2.1"/>
<path d="M164.21,699.10 C164.60,697.75 165.61,692.37 166.56,690.98 C167.50,689.59 168.84,691.39 169.88,690.75 C170.91,690.12 171.83,689.48 172.78,687.15 C173.72,684.82 174.60,678.80 175.54,676.77 C176.49,674.74 177.18,675.76 178.44,674.97 C179.71,674.18 181.25,672.60 183.14,672.04 C185.03,671.47 186.97,671.66 189.78,671.59 C192.59,671.51 197.38,671.66 200.00,671.59 C202.63,671.51 203.46,671.74 205.53,671.14 C207.60,670.54 210.71,669.37 212.44,667.98 C214.17,666.59 214.44,664.41 215.90,662.79 C217.35,661.18 219.54,659.60 221.15,658.28 C222.76,656.97 224.12,656.63 225.57,654.90 C227.02,653.17 228.70,649.98 229.85,647.91 C231.01,645.84 231.33,644.41 232.48,642.50 C233.63,640.58 235.17,637.84 236.76,636.41 C238.35,634.98 240.24,634.57 242.02,633.93 C243.79,633.29 244.46,632.65 247.41,632.58 C250.35,632.50 256.30,632.12 259.71,633.48 C263.11,634.83 264.43,637.88 267.86,640.69 C271.29,643.51 276.87,646.93 280.30,650.39 C283.73,653.85 285.43,657.79 288.45,661.44 C291.47,665.09 295.89,668.77 298.40,672.26 C300.91,675.76 301.26,679.03 303.51,682.41 C305.77,685.79 309.41,689.18 311.94,692.56 C314.48,695.94 316.46,698.76 318.72,702.71 C320.97,706.65 322.68,712.29 325.49,716.24 C328.30,720.18 332.21,723.26 335.58,726.38 C338.94,729.50 342.56,732.13 345.67,734.95 C348.78,737.77 351.12,741.08 354.23,743.30 C357.34,745.51 360.94,746.00 364.32,748.26 C367.71,750.51 371.16,754.83 374.55,756.83 C377.94,758.82 381.57,758.44 384.64,760.21 C387.70,761.98 390.40,765.43 392.93,767.42 C395.46,769.42 396.27,770.17 399.84,772.16 C403.41,774.15 409.28,777.91 414.35,779.38 C419.42,780.84 424.90,780.95 430.24,780.95 C435.59,780.95 441.28,780.84 446.41,779.38 C451.55,777.91 455.74,775.28 461.06,772.16 C466.38,769.04 473.52,764.98 478.34,760.66 C483.15,756.34 485.52,752.05 489.95,746.23 C494.37,740.40 499.99,732.51 504.87,725.71 C509.76,718.90 515.12,711.24 519.24,705.41 C523.37,699.59 526.20,694.44 529.61,690.75 C533.02,687.07 534.61,685.00 539.70,683.31 C544.79,681.62 553.59,681.70 560.15,680.61 C566.72,679.52 574.48,678.01 579.09,676.77 C583.69,675.53 586.34,673.77 587.79,673.17" fill="none" stroke="#111" stroke-width="3.6" stroke-linejoin="round"/>
<path d="M151.08,858.98 C152.21,858.87 155.46,858.87 157.85,858.30 C160.25,857.74 163.08,856.69 165.45,855.60 C167.83,854.51 169.97,853.23 172.09,851.76 C174.21,850.30 176.30,848.68 178.17,846.80 C180.03,844.92 181.67,842.63 183.28,840.49 C184.89,838.34 186.48,836.24 187.84,833.95 C189.20,831.65 190.40,829.21 191.43,826.73 C192.47,824.25 193.21,821.70 194.06,819.06 C194.91,816.43 195.79,813.50 196.55,810.95 C197.31,808.39 198.02,806.21 198.62,803.73 C199.22,801.25 199.59,798.66 200.14,796.06 C200.69,793.47 201.20,791.97 201.94,788.17 C202.67,784.38 203.73,778.36 204.56,773.29 C205.39,768.21 206.04,762.95 206.91,757.73 C207.79,752.50 209.01,747.32 209.81,741.94 C210.62,736.57 211.10,730.86 211.75,725.48 C212.39,720.11 212.97,714.92 213.68,709.70 C214.40,704.47 215.32,699.36 216.03,694.14 C216.75,688.91 217.28,683.58 217.97,678.35 C218.66,673.13 219.35,667.87 220.18,662.79 C221.01,657.72 221.77,652.16 222.94,647.91 C224.12,643.66 225.64,640.09 227.23,637.31 C228.82,634.53 231.21,632.54 232.48,631.22 C233.75,629.91 234.00,629.46 234.83,629.42 C235.66,629.38 235.82,629.34 237.45,631.00 C239.09,632.65 242.75,635.66 244.64,639.34 C246.53,643.02 247.64,648.06 248.79,653.10 C249.94,658.13 250.61,664.22 251.55,669.56 C252.50,674.89 253.53,679.89 254.45,685.12 C255.37,690.34 256.27,695.53 257.08,700.90 C257.89,706.28 258.51,711.91 259.29,717.36 C260.07,722.81 260.88,728.26 261.78,733.60 C262.68,738.94 263.87,744.50 264.68,749.38 C265.49,754.27 265.97,758.22 266.62,762.91 C267.26,767.61 267.47,771.67 268.55,777.57 C269.63,783.47 271.43,791.22 273.11,798.32 C274.79,805.42 276.52,813.31 278.64,820.19 C280.76,827.07 282.81,833.65 285.82,839.58 C288.84,845.52 292.64,851.72 296.74,855.82 C300.84,859.92 306.09,862.55 310.42,864.16 C314.75,865.78 319.09,865.74 322.72,865.52 C326.36,865.29 330.67,863.26 332.26,862.81" fill="none" stroke="#858585" stroke-width="4.2" stroke-dasharray="4.2 3.6"/>
<path d="M255.56,857.40 C257.13,855.93 261.29,852.06 264.96,848.61 C268.62,845.15 273.94,840.79 277.53,836.65 C281.13,832.52 284.24,826.99 286.52,823.80 C288.80,820.61 289.51,821.88 291.21,817.49 C292.92,813.09 294.69,804.71 296.74,797.42 C298.79,790.13 301.53,781.63 303.51,773.74 C305.50,765.85 306.95,757.69 308.63,750.06 C310.31,742.43 311.78,735.86 313.60,727.96 C315.42,720.07 317.56,710.30 319.55,702.71 C321.53,695.11 323.67,687.75 325.49,682.41 C327.31,677.07 328.51,674.07 330.46,670.69 C332.42,667.30 334.96,663.81 337.24,662.12 C339.52,660.43 341.89,660.39 344.15,660.54 C346.40,660.69 348.25,661.33 350.78,663.02 C353.31,664.71 356.81,667.75 359.35,670.69 C361.88,673.62 363.45,676.66 365.98,680.61 C368.51,684.55 371.74,689.25 374.55,694.36 C377.36,699.47 380.26,705.11 382.84,711.28 C385.42,717.44 388.35,727.21 390.03,731.35 C391.71,735.48 391.29,733.45 392.93,736.08 C394.57,738.71 397.40,743.67 399.84,747.13 C402.28,750.59 405.05,754.38 407.58,756.83 C410.11,759.27 412.65,760.62 415.04,761.79 C417.44,762.95 419.79,763.48 421.95,763.82 C424.12,764.16 425.96,764.19 428.03,763.82 C430.11,763.44 432.18,762.73 434.39,761.56 C436.60,760.40 438.95,758.14 441.30,756.83 C443.65,755.51 446.34,753.56 448.49,753.67 C450.63,753.78 451.53,754.46 454.15,757.50 C456.78,760.55 461.18,766.03 464.24,771.93 C467.30,777.84 469.22,785.01 472.53,792.91 C475.85,800.80 480.83,811.89 484.14,819.29 C487.46,826.69 488.52,831.50 492.43,837.33 C496.35,843.16 502.66,850.00 507.64,854.24 C512.61,858.49 517.22,860.89 522.29,862.81 C527.35,864.73 535.41,865.25 538.04,865.74" fill="none" stroke="#2d6a1e" stroke-width="4.2" pathLength="1000" stroke-dasharray="23.8 22.7"/>
<line x1="235.0" y1="628.5" x2="235.0" y2="869" stroke="#888" stroke-width="3.6"/>
<line x1="367.6" y1="682.6" x2="367.6" y2="869" stroke="#2f6a1c" stroke-width="3.6"/>
<line x1="237" y1="785.9" x2="356" y2="785.9" stroke="#111" stroke-width="3.6"/>
<path d="M365.4,785.9 L355.2,781.0 L355.2,790.9 Z" fill="#111"/>
<path d="M95.80,642.50 V869.10 H580.30" fill="none" stroke="#444" stroke-width="2.0"/>
<line x1="90" y1="868.90" x2="95.8" y2="868.90" stroke="#444" stroke-width="1.8"/>
<line x1="90" y1="823.80" x2="95.8" y2="823.80" stroke="#444" stroke-width="1.8"/>
<line x1="90" y1="778.70" x2="95.8" y2="778.70" stroke="#444" stroke-width="1.8"/>
<line x1="90" y1="733.60" x2="95.8" y2="733.60" stroke="#444" stroke-width="1.8"/>
<line x1="90" y1="688.50" x2="95.8" y2="688.50" stroke="#444" stroke-width="1.8"/>
<line x1="90" y1="643.40" x2="95.8" y2="643.40" stroke="#444" stroke-width="1.8"/>
<line x1="95.80" y1="869" x2="95.80" y2="874.7" stroke="#444" stroke-width="1.8"/>
<text x="95.8" y="887.0" font-size="12.20" font-weight="normal" font-style="normal" fill="#444" text-anchor="middle">350</text>
<line x1="164.76" y1="869" x2="164.76" y2="874.7" stroke="#444" stroke-width="1.8"/>
<text x="164.8" y="887.0" font-size="12.20" font-weight="normal" font-style="normal" fill="#444" text-anchor="middle">400</text>
<line x1="233.71" y1="869" x2="233.71" y2="874.7" stroke="#444" stroke-width="1.8"/>
<text x="233.7" y="887.0" font-size="12.20" font-weight="normal" font-style="normal" fill="#444" text-anchor="middle">450</text>
<line x1="302.67" y1="869" x2="302.67" y2="874.7" stroke="#444" stroke-width="1.8"/>
<text x="302.7" y="887.0" font-size="12.20" font-weight="normal" font-style="normal" fill="#444" text-anchor="middle">500</text>
<line x1="371.63" y1="869" x2="371.63" y2="874.7" stroke="#444" stroke-width="1.8"/>
<text x="371.6" y="887.0" font-size="12.20" font-weight="normal" font-style="normal" fill="#444" text-anchor="middle">550</text>
<line x1="440.59" y1="869" x2="440.59" y2="874.7" stroke="#444" stroke-width="1.8"/>
<text x="440.6" y="887.0" font-size="12.20" font-weight="normal" font-style="normal" fill="#444" text-anchor="middle">600</text>
<line x1="509.54" y1="869" x2="509.54" y2="874.7" stroke="#444" stroke-width="1.8"/>
<text x="509.5" y="887.0" font-size="12.20" font-weight="normal" font-style="normal" fill="#444" text-anchor="middle">650</text>
<line x1="578.50" y1="869" x2="578.50" y2="874.7" stroke="#444" stroke-width="1.8"/>
<text x="566.33" y="888.30" font-size="12.80" font-weight="normal" font-style="normal" fill="#444" textLength="21.88" lengthAdjust="spacingAndGlyphs">700</text>
<text x="86.6" y="646.9" font-size="12.20" font-weight="normal" font-style="normal" fill="#444" text-anchor="end">1</text>
<text x="87.5" y="873.1" font-size="12.20" font-weight="normal" font-style="normal" fill="#444" text-anchor="end">0</text>
<text x="282.19" y="907.90" font-size="15.20" font-weight="bold" font-style="normal" fill="#444" textLength="116.43" lengthAdjust="spacingAndGlyphs" stroke="#444" stroke-width="0.3">Wavelength (nm)</text>
<text x="-0.97" y="0.00" font-size="15.50" font-weight="bold" font-style="normal" fill="#444" textLength="119.45" lengthAdjust="spacingAndGlyphs" transform="translate(72.90 815.40) rotate(-90)" stroke="#444" stroke-width="0.3">Relative Intensity</text>
<text x="138.19" y="648.80" font-size="12.60" font-weight="bold" font-style="normal" fill="#1c55a0" textLength="40.20" lengthAdjust="spacingAndGlyphs">BS-rod</text>
<text x="345.71" y="647.30" font-size="12.60" font-weight="bold" font-style="normal" fill="#1e7a30" textLength="40.68" lengthAdjust="spacingAndGlyphs">GS-rod</text>
<text x="532.26" y="671.00" font-size="12.80" font-weight="bold" font-style="normal" fill="#222" textLength="45.58" lengthAdjust="spacingAndGlyphs">Twilight</text>
<text x="108.00" y="821.30" font-size="12.40" font-weight="normal" font-style="normal" fill="#111" textLength="80.90" lengthAdjust="spacingAndGlyphs">Blue Excitation</text>
<text x="121.84" y="835.30" font-size="12.40" font-weight="normal" font-style="normal" fill="#111" textLength="53.08" lengthAdjust="spacingAndGlyphs">Spectrum</text>
<text x="508.43" y="822.30" font-size="12.40" font-weight="normal" font-style="normal" fill="#222" textLength="51.94" lengthAdjust="spacingAndGlyphs">Observed</text>
<text x="508.88" y="835.80" font-size="12.40" font-weight="normal" font-style="normal" fill="#222" textLength="50.63" lengthAdjust="spacingAndGlyphs">Emission</text>
<text x="507.63" y="848.60" font-size="12.40" font-weight="normal" font-style="normal" fill="#222" textLength="53.29" lengthAdjust="spacingAndGlyphs">Spectrum</text>
</svg></body></html>
